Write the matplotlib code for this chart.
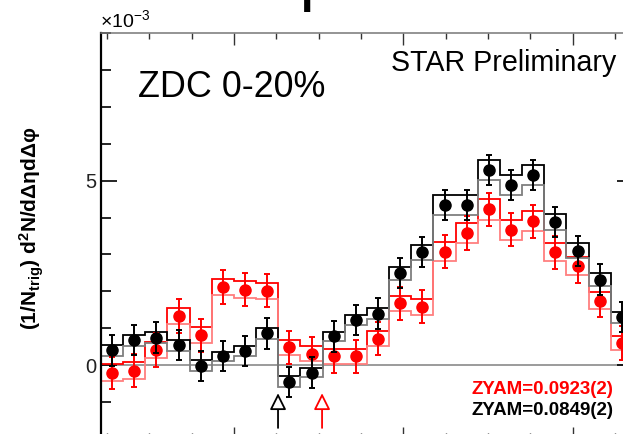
import numpy as np
import matplotlib
matplotlib.use('Agg')
import matplotlib.pyplot as plt
from matplotlib.ticker import MultipleLocator

plt.rcParams['font.family'] = ['Liberation Sans', 'DejaVu Sans']
plt.rcParams['mathtext.fontset'] = 'custom'
plt.rcParams['mathtext.rm'] = 'Liberation Sans'
plt.rcParams['mathtext.it'] = 'Liberation Sans:italic'
plt.rcParams['mathtext.bf'] = 'Liberation Sans:bold'

# ---- data (values in units of 1e-3) ----
n_bins = 24
phi_lo, phi_hi = -np.pi / 2, 3 * np.pi / 2
edges = np.linspace(phi_lo, phi_hi, n_bins + 1)
centers = 0.5 * (edges[:-1] + edges[1:])

black_vals = [0.41, 0.68, 0.75, 0.54, -0.02, 0.24, 0.39, 0.86, -0.45, -0.20, 0.78, 1.22,
              1.40, 2.49, 3.06, 4.34, 4.34, 5.29, 4.88, 5.16, 3.87, 3.10, 2.32, 1.30]
black_stat = [0.42, 0.40, 0.41, 0.41, 0.41, 0.41, 0.41, 0.41, 0.41, 0.41, 0.41, 0.41,
              0.41, 0.41, 0.41, 0.41, 0.41, 0.41, 0.41, 0.41, 0.41, 0.41, 0.41, 0.41]
black_sys = [0.15, 0.15, 0.15, 0.15, 0.15, 0.13, 0.13, 0.15, 0.15, 0.13, 0.13, 0.14,
             0.15, 0.18, 0.20, 0.27, 0.27, 0.27, 0.26, 0.27, 0.22, 0.20, 0.18, 0.15]

red_vals = [-0.21, -0.15, 0.41, 1.33, 0.81, 2.12, 2.05, 2.02, 0.48, 0.31, 0.24, 0.24,
            0.72, 1.68, 1.58, 3.08, 3.58, 4.22, 3.67, 3.90, 3.06, 2.68, 1.75, 0.60]
red_stat = [0.43, 0.44, 0.45, 0.45, 0.45, 0.45, 0.45, 0.45, 0.45, 0.45, 0.45, 0.45,
            0.45, 0.45, 0.45, 0.45, 0.45, 0.45, 0.45, 0.45, 0.45, 0.45, 0.45, 0.45]
red_sys = [0.23, 0.23, 0.22, 0.22, 0.22, 0.22, 0.22, 0.22, 0.21, 0.21, 0.20, 0.20,
           0.20, 0.20, 0.22, 0.25, 0.26, 0.28, 0.27, 0.27, 0.25, 0.24, 0.22, 0.20]

arrow_x = [0.52, 1.04]
arrow_colors = ['black', 'red']

zyam_labels = ['ZYAM=0.0923(2)', 'ZYAM=0.0849(2)']
zyam_colors = ['red', 'black']

# ---- figure ----
W, H = 623, 434
fig = plt.figure(figsize=(W / 100, H / 100), dpi=100)
ax = fig.add_axes([101 / W, -5 / H, 532 / W, 406 / H])

ax.axhline(0, color='#808080', lw=1.1, zorder=1)

bv, bs, bsy = np.array(black_vals), np.array(black_stat), np.array(black_sys)
rv, rs, rsy = np.array(red_vals), np.array(red_stat), np.array(red_sys)

ax.stairs(rv + rsy, edges, color='red', lw=1.3, zorder=2)
ax.stairs(rv - rsy, edges, color='#ff7f7f', lw=1.3, zorder=2)
ax.stairs(bv + bsy, edges, color='black', lw=1.3, zorder=2)
ax.stairs(bv - bsy, edges, color='#7f7f7f', lw=1.3, zorder=2)

ax.errorbar(centers, rv, yerr=rs, fmt='o', color='red', ms=8, capsize=2.5,
            elinewidth=1.4, capthick=1.4, zorder=3)
ax.errorbar(centers, bv, yerr=bs, fmt='o', color='black', ms=8, capsize=2.5,
            elinewidth=1.4, capthick=1.4, zorder=4)

for xa, ca in zip(arrow_x, arrow_colors):
    ax.annotate('', xy=(xa, -0.76), xytext=(xa, -1.7),
                arrowprops=dict(arrowstyle='-|>,head_length=1.0,head_width=0.5',
                                fc='white', ec=ca, lw=1.3, mutation_scale=10,
                                shrinkA=0, shrinkB=0), zorder=5)

ax.set_xlim(phi_lo, phi_hi)
ax.set_ylim(-2, 9)
ax.xaxis.set_major_locator(MultipleLocator(2))
ax.xaxis.set_minor_locator(MultipleLocator(0.5))
ax.yaxis.set_major_locator(MultipleLocator(5))
ax.yaxis.set_minor_locator(MultipleLocator(1))
ax.tick_params(axis='x', which='major', direction='in', length=8.6, width=1,
               top=True, bottom=True, labelbottom=False, color='#333333')
ax.tick_params(axis='x', which='minor', direction='in', length=4.5, width=1,
               top=True, bottom=True, color='#333333')
ax.tick_params(axis='y', which='major', direction='in', length=11.5, width=1.2,
               left=True, right=True, labelsize=14.5, pad=3, labelcolor='#222222')
ax.tick_params(axis='y', which='minor', direction='in', length=7, width=1.2,
               left=True, right=True)
ax.spines['left'].set_linewidth(1.6)
ax.spines['top'].set_linewidth(1.1)
ax.spines['top'].set_color('#777777')

def fx(px):
    return px / W

def fy(py):
    return 1 - py / H

fig.text(fx(100), fy(27), r'×10$^{-3}$', fontsize=14, va='baseline', ha='left')
fig.text(fx(138), fy(97), 'ZDC 0-20%', fontsize=25.8, va='baseline', ha='left')
fig.text(fx(391), fy(71), 'STAR Preliminary', fontsize=20.6, va='baseline', ha='left')
fig.text(fx(613), fy(394), zyam_labels[0], color=zyam_colors[0], fontsize=13.5,
         fontweight='bold', ha='right', va='baseline')
fig.text(fx(613), fy(415), zyam_labels[1], color=zyam_colors[1], fontsize=13.5,
         fontweight='bold', ha='right', va='baseline')
fig.text(fx(32), fy(228), r'(1/N$_{\mathbf{trig}}$) d$^{\mathbf{2}}$N/dΔηdΔφ',
         rotation=90, ha='center', va='center', fontsize=15, fontweight='bold')
# bottom of a cut-off title glyph at the very top (cut off in the reference too)
fig.text(fx(307), fy(12), 'l', fontsize=32, fontweight='bold', ha='center', va='baseline')

fig.savefig('out.png', dpi=100)
